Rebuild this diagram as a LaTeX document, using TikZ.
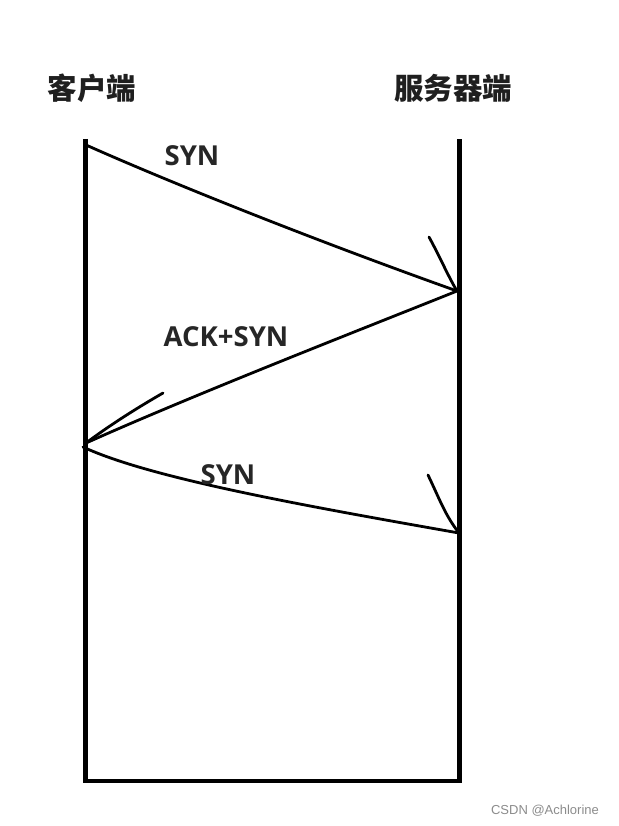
\documentclass[tikz,border=0pt]{standalone}
\usepackage{fontspec}
\newfontfamily\cjk{Noto Sans CJK SC}
\newfontfamily\lab{Open Sans}
\newfontfamily\wm{Liberation Sans}
\begin{document}
\begin{tikzpicture}[x=1pt,y=-1pt,
  frame/.style={line width=4.5pt,line join=miter},
  stroke/.style={line width=2.8pt,line cap=round,line join=round},
  head/.style={line width=2.8pt,line cap=round},
  title/.style={font=\cjk\bfseries\fontsize{29.5}{32}\selectfont,text=black!88,inner sep=0pt},
  msg/.style={font=\lab\bfseries\fontsize{27.5}{30}\selectfont,text=black!85,inner sep=0pt},
  wmark/.style={font=\wm\fontsize{13}{15}\selectfont,text=black!45,inner sep=0pt}]
\useasboundingbox[fill=white] (0,0) rectangle (618,826);
% frame (client and server timelines)
\coordinate (ltop) at (85.3,139);
\coordinate (lbot) at (85.3,781);
\coordinate (rbot) at (459.5,781);
\coordinate (rtop) at (459.5,139);
\draw[frame] (ltop) -- (lbot) -- (rbot) -- (rtop);
% titles
\node[title] (client) at (92,88) {客户端};
\node[title] (server) at (453,88) {服务器端};
% message points
\coordinate (c1) at (86,145);
\coordinate (s1) at (457,291);
\coordinate (c2) at (86,443);
\coordinate (c3) at (83,447);
\coordinate (s2) at (459,533);
\coordinate (h1) at (429,237);
\coordinate (h2) at (163,393);
\coordinate (h3) at (428,475);
% SYN
\draw[stroke] (c1) .. controls (160,178) and (300,235) .. (s1);
\draw[head] (h1) .. controls (440,257) and (448,276) .. (s1);
% ACK+SYN
\draw[stroke] (s1) .. controls (380,322) and (200,392) .. (c2);
\draw[head] (h2) .. controls (137,408) and (110,425) .. (c2);
% SYN
\draw[stroke] (c3) .. controls (150,478) and (300,505) .. (s2);
\draw[head] (h3) .. controls (440,500) and (445,515) .. (s2);
% labels
\node[msg] (syn1) at (192,156) {SYN};
\node[msg] (acksyn) at (226,337) {ACK+SYN};
\node[msg] (syn2) at (228,475) {SYN};
\node[wmark] (wmk) at (545,811) {CSDN @Achlorine};
\end{tikzpicture}
\end{document}
